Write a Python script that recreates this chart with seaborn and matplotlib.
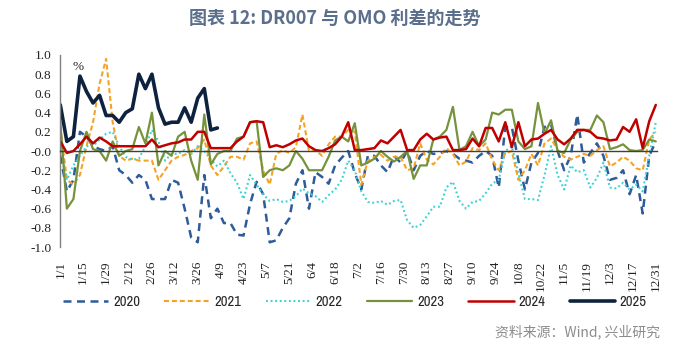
import numpy as np
import pandas as pd
import matplotlib
matplotlib.use("Agg")
import matplotlib.pyplot as plt
from matplotlib import font_manager
import seaborn as sns

# ---------------- data ----------------
days = list(range(0, 365, 4))  # day-of-year index, 0 = 1/1

tick_pos = list(range(0, 365, 14))
tick_labels = ["1/1", "1/15", "1/29", "2/12", "2/26", "3/12", "3/26", "4/9", "4/23",
               "5/7", "5/21", "6/4", "6/18", "7/2", "7/16", "7/30", "8/13", "8/27",
               "9/10", "9/24", "10/8", "10/22", "11/5", "11/19", "12/3", "12/17", "12/31"]

s2020 = [-0.05, -0.42, -0.30, 0.20, 0.15, 0.05, 0.02, 0.00, 0.05, -0.20, -0.25, -0.33,
         -0.25, -0.30, -0.50, -0.50, -0.50, -0.30, -0.33, -0.60, -0.90, -0.95, -0.25, -0.70,
         -0.60, -0.75, -0.75, -0.87, -0.88, -0.55, -0.32, -0.45, -0.95, -0.93, -0.80, -0.70,
         -0.34, -0.20, -0.60, -0.22, -0.27, -0.34, -0.15, -0.07, 0.00, -0.23, -0.40, -0.05,
         -0.05, -0.15, -0.22, -0.05, -0.12, 0.00, -0.20, -0.05, 0.00, -0.03, -0.02, 0.00,
         -0.03, -0.08, -0.10, -0.12, -0.05, 0.00, -0.05, -0.38, 0.25, 0.25, -0.10, -0.40,
         -0.12, -0.02, 0.25, 0.28, 0.00, -0.20, -0.05, 0.38, -0.12, -0.02, 0.08, -0.05,
         -0.30, -0.28, -0.20, -0.45, -0.25, -0.65, -0.05, 0.10]

s2021 = [0.25, -0.30, -0.35, -0.25, 0.05, 0.30, 0.70, 0.96, 0.30, -0.05, -0.10, -0.08,
         -0.10, -0.10, -0.10, -0.30, -0.20, -0.10, -0.06, -0.04, 0.00, 0.03, 0.12, -0.15,
         -0.25, -0.16, -0.06, -0.06, -0.09, 0.08, 0.10, -0.20, -0.35, -0.03, 0.01, -0.02,
         0.04, 0.38, 0.00, 0.01, -0.05, 0.07, 0.15, 0.15, 0.22, 0.20, -0.35, -0.10,
         -0.06, -0.04, -0.10, -0.06, -0.06, -0.20, -0.18, 0.08, -0.09, -0.14, -0.06, 0.03,
         -0.03, -0.15, -0.11, 0.03, 0.01, 0.08, -0.09, -0.20, -0.02, 0.00, -0.30, -0.20,
         -0.03, -0.15, 0.08, 0.13, 0.01, -0.06, -0.09, -0.06, -0.03, -0.05, 0.01, 0.05,
         -0.16, -0.12, -0.06, -0.10, -0.18, -0.20, 0.12, 0.20]

s2022 = [0.05, -0.30, -0.15, -0.05, 0.05, 0.05, 0.12, 0.18, 0.20, 0.05, -0.06, -0.09,
         -0.08, 0.05, 0.22, 0.10, -0.10, -0.03, -0.03, 0.01, -0.03, 0.05, 0.00, -0.09,
         -0.16, -0.10, -0.23, -0.33, -0.50, -0.25, -0.35, -0.45, -0.52, -0.50, -0.53, -0.52,
         -0.47, -0.39, -0.44, -0.47, -0.53, -0.46, -0.40, -0.30, -0.10, -0.20, -0.42, -0.53,
         -0.54, -0.52, -0.56, -0.52, -0.51, -0.72, -0.80, -0.77, -0.68, -0.58, -0.58, -0.38,
         -0.32, -0.52, -0.60, -0.53, -0.52, -0.44, -0.34, -0.30, 0.00, 0.05, -0.23, -0.50,
         -0.50, -0.51, -0.25, 0.05, -0.25, -0.40, -0.15, -0.22, -0.20, -0.38, -0.28, -0.12,
         -0.38, -0.39, -0.33, -0.40, -0.35, -0.42, -0.05, 0.30]

s2023 = [0.30, -0.60, -0.50, 0.00, 0.20, 0.02, 0.00, -0.10, 0.10, -0.05, 0.00, 0.02,
         0.25, 0.08, 0.40, -0.15, 0.00, -0.05, 0.15, 0.20, -0.10, -0.30, 0.38, -0.14,
         -0.03, 0.00, 0.00, 0.13, 0.15, 0.30, 0.31, -0.27, -0.20, -0.18, -0.20, -0.15,
         0.00, -0.08, -0.20, -0.20, -0.20, -0.06, 0.11, 0.15, 0.10, 0.29, -0.15, -0.12,
         -0.08, 0.00, -0.06, -0.11, -0.06, 0.00, -0.29, -0.15, -0.15, 0.12, 0.15, 0.22,
         0.46, 0.01, 0.05, 0.20, 0.05, 0.12, 0.40, 0.38, 0.43, 0.43, 0.10, 0.02,
         0.05, 0.50, 0.18, 0.32, 0.00, -0.02, 0.12, 0.20, 0.22, 0.22, 0.37, 0.30,
         0.02, 0.04, 0.07, 0.01, 0.00, 0.01, 0.12, 0.10]

s2024 = [0.10, -0.02, 0.00, 0.07, 0.15, 0.08, 0.14, 0.10, 0.05, 0.05, 0.05, 0.05,
         0.05, 0.05, 0.12, 0.04, 0.06, 0.08, 0.09, 0.12, 0.12, 0.20, 0.20, 0.03,
         0.03, 0.03, 0.03, 0.10, 0.15, 0.30, 0.31, 0.30, 0.04, 0.06, 0.04, 0.07,
         0.11, 0.13, 0.05, 0.01, 0.00, 0.03, 0.07, 0.15, 0.30, 0.01, 0.01, 0.02,
         0.03, 0.11, 0.08, 0.15, 0.22, 0.01, 0.01, 0.12, 0.18, 0.12, 0.14, 0.15,
         0.01, 0.01, 0.02, 0.13, 0.05, 0.24, 0.24, 0.10, 0.30, 0.04, 0.30, 0.05,
         0.12, 0.13, 0.18, 0.22, 0.12, 0.07, 0.13, 0.22, 0.22, 0.20, 0.14, 0.13,
         0.11, 0.12, 0.25, 0.20, 0.33, 0.03, 0.31, 0.48]

s2025 = [0.48, 0.10, 0.15, 0.78, 0.62, 0.50, 0.58, 0.37, 0.37, 0.30, 0.40, 0.44,
         0.80, 0.65, 0.80, 0.45, 0.28, 0.30, 0.30, 0.45, 0.30, 0.55, 0.65, 0.22, 0.24]

series_names = ["2020", "2021", "2022", "2023", "2024", "2025"]
series_vals = [s2020, s2021, s2022, s2023, s2024, s2025]

# ---------------- style ----------------
sns.set_theme(style="white")
plt.rcParams["font.family"] = ["Noto Sans CJK SC", "DejaVu Sans"]

names = {f.name for f in font_manager.fontManager.ttflist}
serif_font = "Liberation Serif" if "Liberation Serif" in names else "DejaVu Serif"
legend_font = "Archivo Narrow" if "Archivo Narrow" in names else "DejaVu Sans"

styles = {
    "2020": dict(color="#2E5C99", lw=1.8, ls=(0, (3.2, 2.2))),
    "2021": dict(color="#F5A227", lw=1.5, ls=(0, (2.4, 1.4))),
    "2022": dict(color="#3DD1D6", lw=1.5, ls=(0, (0.9, 1.3))),
    "2023": dict(color="#76933C", lw=1.6, ls="-"),
    "2024": dict(color="#C00000", lw=1.8, ls="-"),
    "2025": dict(color="#0E223F", lw=2.6, ls="-"),
}

fig = plt.figure(figsize=(7.0, 3.48), dpi=100)
ax = fig.add_axes([0.085, 0.290, 0.853, 0.552])

for name, vals in zip(series_names, series_vals):
    st = styles[name]
    df = pd.DataFrame({"day": days[:len(vals)], "v": vals})
    sns.lineplot(data=df, x="day", y="v", ax=ax, color=st["color"],
                 linewidth=st["lw"], linestyle=st["ls"], label=name, legend=False)

ax.set_xlim(-0.5, 364.5)
ax.set_ylim(-1.0, 1.0)
ax.set_xlabel("")
ax.set_ylabel("")

yt = np.round(np.arange(-1.0, 1.01, 0.2), 1)
ax.set_yticks(yt)
ax.set_yticklabels([f"{v:.1f}" for v in yt], fontfamily=serif_font, fontsize=9.5)
ax.tick_params(axis="y", direction="out", length=4, width=0.8, color="#808080", pad=2,
               labelcolor="#222222")

# x axis drawn along the zero line, labels placed below the plot
ax.spines["bottom"].set_position(("data", 0))
ax.spines["bottom"].set_color("#404040")
ax.spines["bottom"].set_linewidth(1.0)
ax.set_xticks(tick_pos)
ax.set_xticklabels(tick_labels, rotation=90, va="top", fontfamily=serif_font, fontsize=9.5)
ax.tick_params(axis="x", direction="out", length=3, width=0.8, color="#404040", pad=76,
               labelcolor="#222222")

for s in ["top", "right"]:
    ax.spines[s].set_visible(False)
ax.spines["left"].set_color("#808080")
ax.spines["left"].set_linewidth(1.0)

ax.text(11, 0.875, "%", fontfamily=serif_font, fontsize=9.5, color="#222222",
        ha="center", va="center")

handles, labels = ax.get_legend_handles_labels()
fig.legend(handles, labels, loc="center", bbox_to_anchor=(0.507, 0.132), ncol=6,
           frameon=False, handlelength=3.1, columnspacing=1.65, handletextpad=0.35,
           prop={"family": [legend_font, "DejaVu Sans"], "size": 10.5})

fig.text(0.478, 0.948, "图表 12: DR007 与 OMO 利差的走势", ha="center", va="center",
         fontsize=13, color="#5B6F8C", fontweight="bold")
fig.text(0.943, 0.045, "资料来源：Wind, 兴业研究", ha="right", va="center",
         fontsize=10, color="#8C8C8C")

fig.savefig("out.png", dpi=100)
